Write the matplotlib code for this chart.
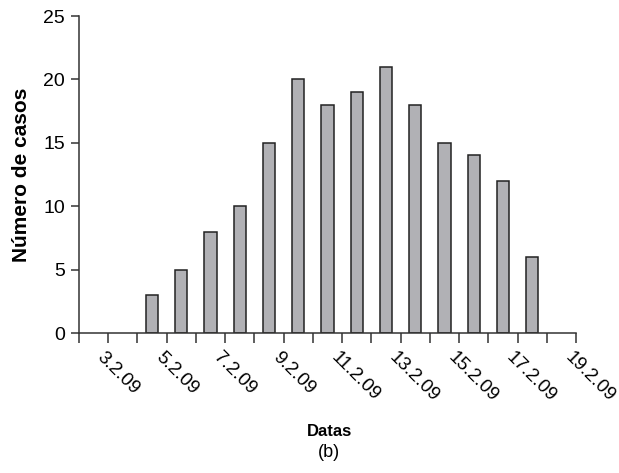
import numpy as np
import matplotlib
matplotlib.use("Agg")
import matplotlib.pyplot as plt
from matplotlib.transforms import ScaledTranslation

plt.rcParams['font.family'] = ['Liberation Sans', 'DejaVu Sans']

# Daily case counts, 3 Feb to 19 Feb 2009
dates = ['3.2.09', '4.2.09', '5.2.09', '6.2.09', '7.2.09', '8.2.09', '9.2.09',
         '10.2.09', '11.2.09', '12.2.09', '13.2.09', '14.2.09', '15.2.09',
         '16.2.09', '17.2.09', '18.2.09', '19.2.09']
cases = [0, 0, 3, 5, 8, 10, 15, 20, 18, 19, 21, 18, 15, 14, 12, 6, 0]
y_ticks = [0, 5, 10, 15, 20, 25]

fig = plt.figure(figsize=(6.19, 4.73), dpi=100)
ax = fig.add_axes([79 / 619, 1 - 333 / 473, (576 - 79) / 619, (333 - 16) / 473])

x = np.arange(len(dates))
edge_widths = [1.1 if v > 0 else 0 for v in cases]
ax.bar(x, cases, width=0.42, color='#b1b1b5', edgecolor='#222222',
       linewidth=edge_widths, zorder=2)

ax.set_xlim(-0.5, len(dates) - 0.5)
ax.set_ylim(0, 25)
ax.set_yticks(y_ticks)

# category boundaries as major ticks, labels on every second category
ax.set_xticks(np.arange(-0.5, len(dates)), labels=[''] * (len(dates) + 1))
ax.set_xticks(x[::2], labels=dates[::2], minor=True)
ax.tick_params(axis='x', which='major', direction='out', length=7, width=1.1, color='#333333')
ax.tick_params(axis='x', which='minor', length=0, pad=16, labelsize=13.5)
shift = ScaledTranslation(6 / 100, 0, fig.dpi_scale_trans)
for lab in ax.get_xticklabels(minor=True):
    lab.set_rotation(-45)
    lab.set_rotation_mode('anchor')
    lab.set_ha('left')
    lab.set_va('center')
    lab.set_transform(lab.get_transform() + shift)

ax.tick_params(axis='y', direction='out', length=6, width=1.1, color='#333333', labelsize=14, pad=4)

for side in ('top', 'right'):
    ax.spines[side].set_visible(False)
for side in ('left', 'bottom'):
    ax.spines[side].set_linewidth(1.1)
    ax.spines[side].set_color('#333333')

ax.set_ylabel('Número de casos', fontsize=15, fontweight='bold', labelpad=9)
fig.text(329 / 619, 1 - 431 / 473, 'Datas', ha='center', va='center', fontsize=12, fontweight='bold')
fig.text(329 / 619, 1 - 452 / 473, '(b)', ha='center', va='center', fontsize=13)

fig.savefig('out.png', dpi=100)
